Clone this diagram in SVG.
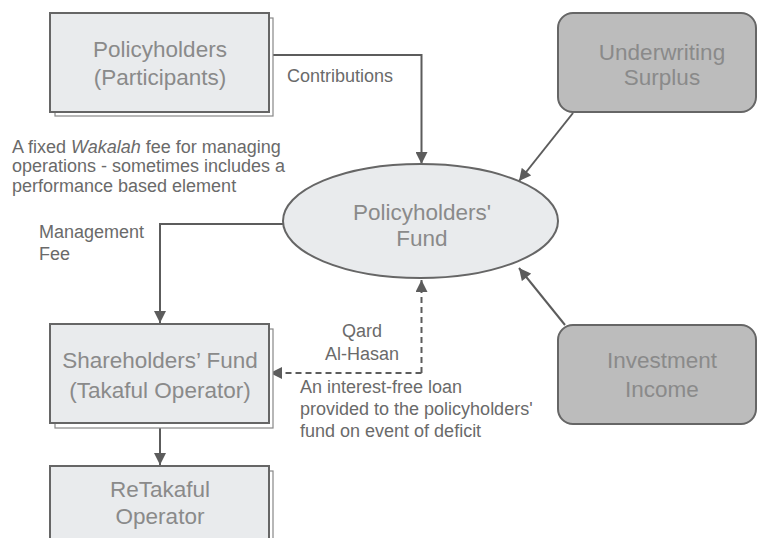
<svg xmlns="http://www.w3.org/2000/svg" width="758" height="538" viewBox="0 0 758 538">
<style>
.box{fill:#e9ebed;stroke:#666;stroke-width:2}
.shadow{fill:#fff;stroke:#888;stroke-width:1.2}
.rbox{fill:#bcbcbc;stroke:#666;stroke-width:2}
.ell{fill:#e9ebed;stroke:#666;stroke-width:2}
.nt{font-family:"Liberation Sans",Arial,sans-serif;font-size:22.5px;fill:#8a8a8a;text-anchor:middle}
.at{font-family:"Liberation Sans",Arial,sans-serif;font-size:18px;fill:#6a6a6a}
.c{fill:none;stroke:#5c5c5c;stroke-width:2}
.d{stroke-dasharray:6,4}
</style>
<defs>
<marker id="ah" viewBox="0 0 10 10" refX="10" refY="5" markerWidth="6.5" markerHeight="6" orient="auto" markerUnits="strokeWidth">
<path d="M0,0 L10,5 L0,10 z" fill="#5c5c5c"/>
</marker>
</defs>
<rect width="758" height="538" fill="#fff"/>
<g id="connectors">
<polyline class="c" points="269,55 421.5,55 421.5,164" marker-end="url(#ah)"/>
<line class="c" x1="573" y1="113" x2="519" y2="181" marker-end="url(#ah)"/>
<line class="c" x1="565" y1="325" x2="519" y2="268" marker-end="url(#ah)"/>
<polyline class="c" points="283,224 160,224 160,323" marker-end="url(#ah)"/>
<line class="c" x1="160" y1="423" x2="160" y2="465" marker-end="url(#ah)"/>
<polyline class="c d" points="421.5,373 421.5,280" marker-end="url(#ah)"/>
<polyline class="c d" points="421.5,373 270,373" marker-end="url(#ah)"/>
</g>
<g id="policyholders">
<rect class="shadow" x="55" y="18" width="218" height="98"/>
<rect class="box" x="50" y="13" width="219" height="99"/>
<text class="nt" x="160" y="57">Policyholders</text>
<text class="nt" x="160" y="85">(Participants)</text>
</g>
<g id="underwriting">
<rect class="rbox" x="558" y="13" width="198" height="99" rx="15"/>
<text class="nt" x="662" y="60">Underwriting</text>
<text class="nt" x="662" y="85">Surplus</text>
</g>
<g id="fund">
<ellipse class="ell" cx="420.5" cy="221" rx="137.5" ry="57"/>
<text class="nt" x="422" y="220">Policyholders'</text>
<text class="nt" x="422" y="246">Fund</text>
</g>
<g id="investment">
<rect class="rbox" x="558" y="325" width="198" height="99" rx="15"/>
<text class="nt" x="662" y="368">Investment</text>
<text class="nt" x="662" y="397">Income</text>
</g>
<g id="shareholders">
<rect class="shadow" x="55" y="329" width="218" height="99"/>
<rect class="box" x="50" y="324" width="219" height="99"/>
<text class="nt" x="160" y="368">Shareholders’ Fund</text>
<text class="nt" x="160" y="398">(Takaful Operator)</text>
</g>
<g id="retakaful">
<rect class="shadow" x="55" y="471" width="218" height="80"/>
<rect class="box" x="50" y="466" width="219" height="80"/>
<text class="nt" x="160" y="497">ReTakaful</text>
<text class="nt" x="160" y="524">Operator</text>
</g>
<g id="labels">
<text class="at" x="287" y="82">Contributions</text>
<text class="at" x="12" y="153">A fixed <tspan font-style="italic">Wakalah</tspan> fee for managing</text>
<text class="at" x="12" y="172">operations - sometimes includes a</text>
<text class="at" x="12" y="192">performance based element</text>
<text class="at" x="39" y="238">Management</text>
<text class="at" x="39" y="260">Fee</text>
<text class="at" x="362" y="337" text-anchor="middle">Qard</text>
<text class="at" x="362" y="360" text-anchor="middle">Al-Hasan</text>
<text class="at" x="300" y="393">An interest-free loan</text>
<text class="at" x="300" y="415">provided to the policyholders'</text>
<text class="at" x="300" y="437">fund on event of deficit</text>
</g>
</svg>
